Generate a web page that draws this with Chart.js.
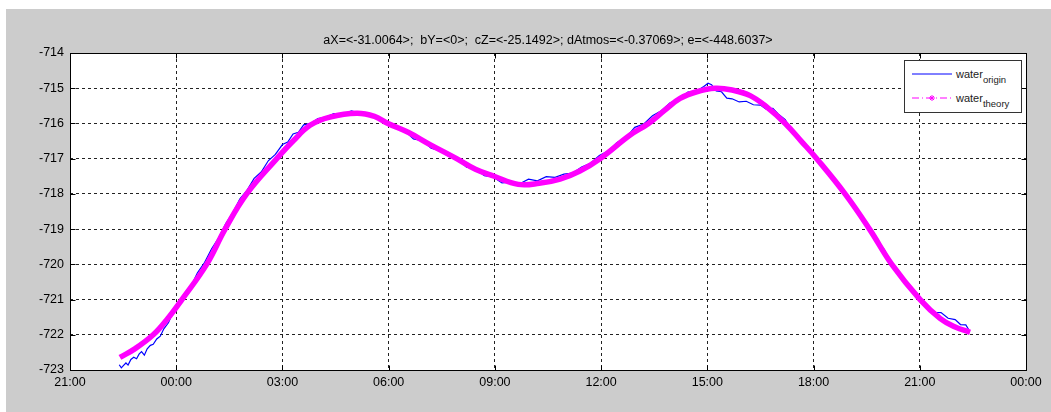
<!DOCTYPE html>
<html lang="en">
<head>
<meta charset="UTF-8">
<title>water origin / theory</title>
<script src="https://cdn.jsdelivr.net/npm/chart.js"></script>
<style>
    body {
        margin: 0;
        padding: 0;
        background: #fff;
        font-family: 'Liberation Sans', Arial, sans-serif;
    }
    #wrap {
        position: relative;
        width: 1051px;
        height: 412px;
        overflow: hidden;
    }
    #legend {
        position: absolute;
        left: 904px;
        top: 60px;
        width: 116px;
        height: 51px;
        background: #fff;
        border: 1px solid #333;
    }
    .item {
        position: absolute;
        left: 0;
        height: 20px;
        display: flex;
        align-items: center;
        font-size: 11px;
        color: #222;
        white-space: nowrap;
    }
    .item svg {
        margin-left: 7px;
        margin-right: 4px;
    }
    .item sub {
        font-size: 9.5px;
        vertical-align: -5px;
        line-height: 0;
    }
</style>
</head>
<body>
<div id="wrap">
    <canvas id="waterChart" width="1051" height="412"></canvas>
    <div id="legend"></div>
</div>

<script>
// hours counted from 21:00 of the first day
const xTickLabels = ['21:00', '00:00', '03:00', '06:00', '09:00', '12:00', '15:00', '18:00', '21:00', '00:00'];
const titleText = 'aX=<-31.0064>;  bY=<0>;  cZ=<-25.1492>; dAtmos=<-0.37069>; e=<-448.6037>';
const seriesNames = [['water', 'origin'], ['water', 'theory']];

const originHours = [
    1.39, 1.45, 1.52, 1.58, 1.64, 1.72, 1.80, 1.88, 1.95, 2.02, 2.10, 2.18, 2.27, 2.35, 2.45,
    2.55, 2.65, 2.78, 2.90, 3.05, 3.20, 3.40, 3.60, 3.80, 4.00, 4.20, 4.40, 4.60, 4.80, 5.00,
    5.20, 5.40, 5.60, 5.80, 6.00, 6.15, 6.30, 6.45, 6.60, 6.80, 7.00, 7.20, 7.45, 7.70, 7.95,
    8.20, 8.45, 8.70, 8.95, 9.20, 9.45, 9.70, 9.95, 10.20, 10.45, 10.70, 10.95, 11.20, 11.45, 11.70,
    11.95, 12.20, 12.45, 12.70, 12.95, 13.20, 13.45, 13.70, 13.95, 14.20, 14.45, 14.70, 14.95, 15.20, 15.45,
    15.70, 15.95, 16.20, 16.45, 16.70, 16.95, 17.20, 17.45, 17.70, 17.90, 18.02, 18.12, 18.25, 18.40, 18.55,
    18.70, 18.90, 19.10, 19.30, 19.50, 19.65, 19.85, 20.00, 20.20, 20.40, 20.60, 20.80, 21.00, 21.20, 21.40,
    21.60, 21.80, 22.00, 22.20, 22.40, 22.60, 22.80, 23.00, 23.20, 23.40, 23.60, 23.80, 24.00, 24.20, 24.40,
    24.60, 24.80, 25.00, 25.15, 25.30, 25.38
];
const originLevel = [
    -722.85, -722.94, -722.86, -722.80, -722.86, -722.70, -722.64, -722.68, -722.55, -722.48, -722.58, -722.40, -722.30, -722.27, -722.12,
    -722.04, -721.83, -721.66, -721.38, -721.20, -720.92, -720.66, -720.24, -719.95, -719.56, -719.25, -718.84, -718.53, -718.14, -717.90,
    -717.56, -717.38, -717.06, -716.88, -716.60, -716.53, -716.30, -716.25, -716.04, -716.00, -715.86, -715.83, -715.72, -715.74, -715.64,
    -715.72, -715.73, -715.86, -715.93, -716.14, -716.20, -716.44, -716.49, -716.70, -716.77, -716.94, -717.02, -717.24, -717.29, -717.48,
    -717.52, -717.69, -717.67, -717.71, -717.58, -717.63, -717.51, -717.53, -717.44, -717.41, -717.24, -717.13, -716.91, -716.78, -716.54,
    -716.41, -716.11, -716.02, -715.78, -715.64, -715.41, -715.31, -715.11, -715.08, -714.95, -714.86, -714.90, -715.08, -715.10, -715.28,
    -715.30, -715.39, -715.37, -715.47, -715.48, -715.59, -715.57, -715.73, -715.89, -716.24, -716.42, -716.72, -716.92, -717.19, -717.37,
    -717.69, -717.86, -718.16, -718.39, -718.74, -718.95, -719.34, -719.58, -719.98, -720.22, -720.54, -720.72, -721.02, -721.17, -721.36,
    -721.37, -721.53, -721.57, -721.71, -721.72, -721.85
];

const theoryHours = [
    1.41, 1.83, 2.35, 2.75, 3.16, 3.86, 4.38, 4.99, 5.84, 6.30, 6.78, 7.34, 8.10, 8.60, 8.98,
    9.55, 10.17, 10.92, 11.45, 11.98, 12.66, 13.25, 13.84, 14.40, 14.97, 15.82, 16.34, 16.80, 17.23, 17.70,
    18.22, 18.70, 19.21, 19.70, 20.20, 20.65, 21.09, 21.89, 22.58, 23.21, 24.01, 24.58, 25.00, 25.42
];
const theoryLevel = [
    -722.64, -722.40, -722.00, -721.55, -721.00, -720.00, -719.00, -718.00, -717.00, -716.50, -716.05, -715.82, -715.71, -715.80, -716.00,
    -716.25, -716.60, -717.00, -717.30, -717.50, -717.73, -717.70, -717.58, -717.35, -717.00, -716.33, -716.00, -715.62, -715.29, -715.10,
    -715.00, -715.05, -715.21, -715.55, -716.00, -716.50, -717.00, -718.00, -719.00, -720.00, -721.00, -721.54, -721.78, -721.93
];

// grey figure, white axes box, inward ticks like the original plot
const framePlugin = {
    id: 'frame',
    beforeDraw(chart) {
        const { ctx, chartArea: a } = chart;
        ctx.save();
        ctx.fillStyle = '#fff';
        ctx.fillRect(0, 0, chart.width, chart.height);
        ctx.fillStyle = '#cccccc';
        ctx.fillRect(6, 9, chart.width - 6, chart.height - 9);
        ctx.fillStyle = '#fff';
        ctx.fillRect(a.left, a.top, a.right - a.left, a.bottom - a.top);
        ctx.restore();
    },
    afterDraw(chart) {
        const { ctx, chartArea: a } = chart;
        const x = chart.scales.x, y = chart.scales.y;
        const L = Math.round(a.left) + 0.5, R = Math.round(a.right) + 0.5;
        const T = Math.round(a.top) + 0.5, B = Math.round(a.bottom) + 0.5;
        ctx.save();
        ctx.strokeStyle = '#000';
        ctx.lineWidth = 1;
        ctx.beginPath();
        x.ticks.forEach((t, i) => {
            const px = Math.round(x.getPixelForTick(i)) + 0.5;
            ctx.moveTo(px, B); ctx.lineTo(px, B - 5);
            ctx.moveTo(px, T); ctx.lineTo(px, T + 5);
        });
        y.ticks.forEach((t, i) => {
            const py = Math.round(y.getPixelForTick(i)) + 0.5;
            ctx.moveTo(L, py); ctx.lineTo(L + 5, py);
            ctx.moveTo(R, py); ctx.lineTo(R - 5, py);
        });
        ctx.stroke();
        ctx.strokeRect(L, T, R - L, B - T);
        ctx.restore();
    }
};

Chart.defaults.font.family = "'Liberation Sans', Arial, sans-serif";
Chart.defaults.font.size = 12.5;
Chart.defaults.color = '#000';

const chart = new Chart(document.getElementById('waterChart'), {
    type: 'line',
    data: {
        datasets: [
            {
                label: 'water origin',
                data: originHours.map((h, i) => ({ x: h, y: originLevel[i] })),
                borderColor: '#0000ff',
                borderWidth: 1.2,
                pointRadius: 0,
                tension: 0,
                order: 2
            },
            {
                label: 'water theory',
                data: theoryHours.map((h, i) => ({ x: h, y: theoryLevel[i] })),
                borderColor: '#ff00ff',
                borderWidth: 5.5,
                pointRadius: 0,
                tension: 0.4,
                order: 1
            }
        ]
    },
    options: {
        responsive: false,
        animation: false,
        layout: { padding: { left: 0, right: 25, top: 0, bottom: 0 } },
        plugins: {
            legend: { display: false },
            tooltip: { enabled: false },
            title: {
                display: true,
                text: titleText,
                fullSize: false,
                color: '#000',
                font: { size: 12.5, weight: 'normal' },
                padding: { top: 33, bottom: 5 }
            }
        },
        scales: {
            x: {
                type: 'linear',
                min: 0,
                max: 27,
                afterFit: s => { s.height = 42; },
                ticks: {
                    stepSize: 3,
                    autoSkip: false,
                    maxRotation: 0,
                    padding: 5,
                    callback: (v, i) => xTickLabels[i]
                },
                grid: { color: '#222', lineWidth: 1, drawTicks: false },
                border: { display: false, dash: [3, 3] }
            },
            y: {
                min: -723,
                max: -714,
                afterFit: s => { s.width = 70; },
                ticks: {
                    stepSize: 1,
                    padding: 6,
                    callback: v => String(v)
                },
                grid: { color: '#222', lineWidth: 1, drawTicks: false },
                border: { display: false, dash: [3, 3] }
            }
        }
    },
    plugins: [framePlugin]
});

// legend with subscripts as html text
const legendSamples = [
    '<svg width="40" height="10"><line x1="0" y1="5" x2="40" y2="5" stroke="#0000ff" stroke-width="1"/></svg>',
    '<svg width="40" height="10"><line x1="0" y1="5" x2="40" y2="5" stroke="#ff00ff" stroke-width="1" stroke-dasharray="7,3,1,3"/>' +
    '<g stroke="#ff00ff" stroke-width="1"><line x1="17" y1="5" x2="23" y2="5"/><line x1="20" y1="2" x2="20" y2="8"/>' +
    '<line x1="18" y1="3" x2="22" y2="7"/><line x1="22" y1="3" x2="18" y2="7"/></g></svg>'
];
const legendBox = document.getElementById('legend');
chart.data.datasets.forEach((ds, i) => {
    const row = document.createElement('div');
    row.className = 'item';
    row.style.top = (3 + i * 24) + 'px';
    row.innerHTML = legendSamples[i] + '<span>' + seriesNames[i][0] + '<sub>' + seriesNames[i][1] + '</sub></span>';
    legendBox.appendChild(row);
});
</script>
</body>
</html>
